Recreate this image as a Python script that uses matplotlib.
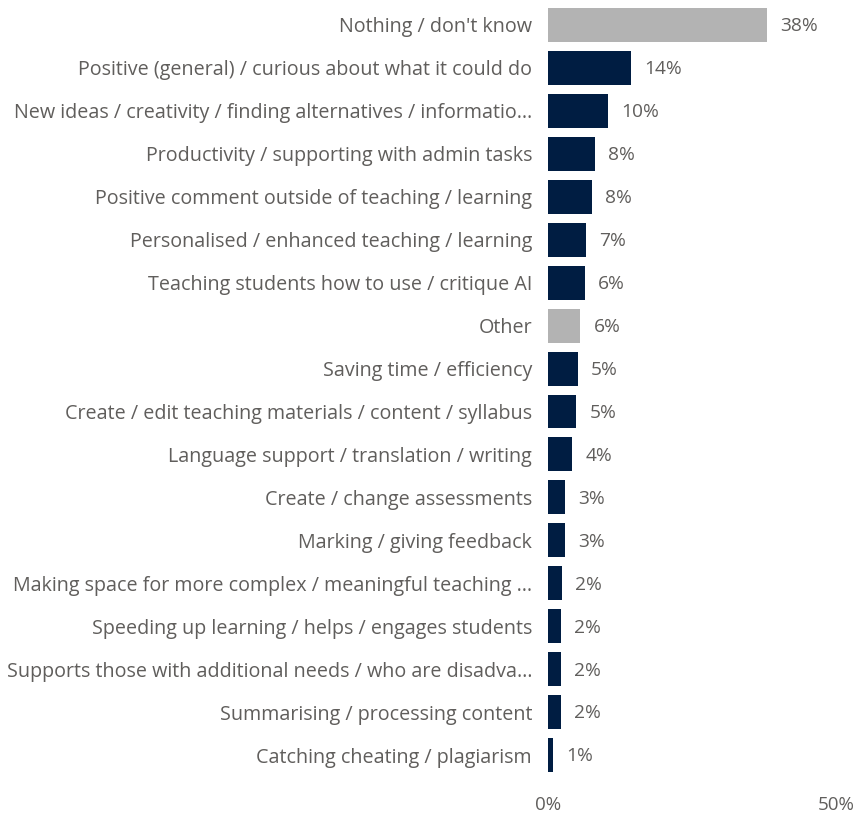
import numpy as np
import matplotlib
matplotlib.use("Agg")
import matplotlib.pyplot as plt

categories = [
    "Nothing / don't know",
    "Positive (general) / curious about what it could do",
    "New ideas / creativity / finding alternatives / informatio\u2026",
    "Productivity / supporting with admin tasks",
    "Positive comment outside of teaching / learning",
    "Personalised / enhanced teaching / learning",
    "Teaching students how to use / critique AI",
    "Other",
    "Saving time / efficiency",
    "Create / edit teaching materials / content / syllabus",
    "Language support / translation / writing",
    "Create / change assessments",
    "Marking / giving feedback",
    "Making space for more complex / meaningful teaching \u2026",
    "Speeding up learning / helps / engages students",
    "Supports those with additional needs / who are disadva\u2026",
    "Summarising / processing content",
    "Catching cheating / plagiarism",
]
values = [38.0, 14.4, 10.4, 8.2, 7.6, 6.6, 6.4, 5.6, 5.2, 4.9,
          4.2, 3.0, 3.0, 2.4, 2.3, 2.3, 2.2, 0.9]
grey_cats = ["Nothing / don't know", "Other"]

navy = "#001D42"
grey = "#B3B3B3"
txt = "#605E5C"

plt.rcParams['font.family'] = ['Open Sans', 'DejaVu Sans']

fig = plt.figure(figsize=(8.62, 8.18), dpi=100)
ax = fig.add_axes([0.6357, 0.0507, 0.334, 0.945])

y = np.arange(len(categories))
colors = [grey if c in grey_cats else navy for c in categories]
bars = ax.barh(y, values, height=0.79, color=colors)

# percentage labels just past the end of each bar
for b, v in zip(bars, values):
    ax.annotate(f"{v:.0f}%", (b.get_width(), b.get_y() + b.get_height() / 2),
                xytext=(9.5, -1), textcoords="offset points",
                va="center", ha="left", fontsize=13.8, color=txt)

ax.set_yticks(y)
ax.set_yticklabels(categories, fontsize=14.2, color=txt)
ax.set_ylim(len(categories) - 0.5, -0.5)
ax.set_xlim(0, 50)
ax.set_xticks([0, 50])
ax.set_xticklabels(["0%", "50%"], fontsize=13.5, color=txt)
ax.tick_params(axis="both", length=0)
ax.tick_params(axis="y", pad=11.5)
ax.tick_params(axis="x", pad=14)
for s in ax.spines.values():
    s.set_visible(False)

fig.savefig("out.png", dpi=100)
